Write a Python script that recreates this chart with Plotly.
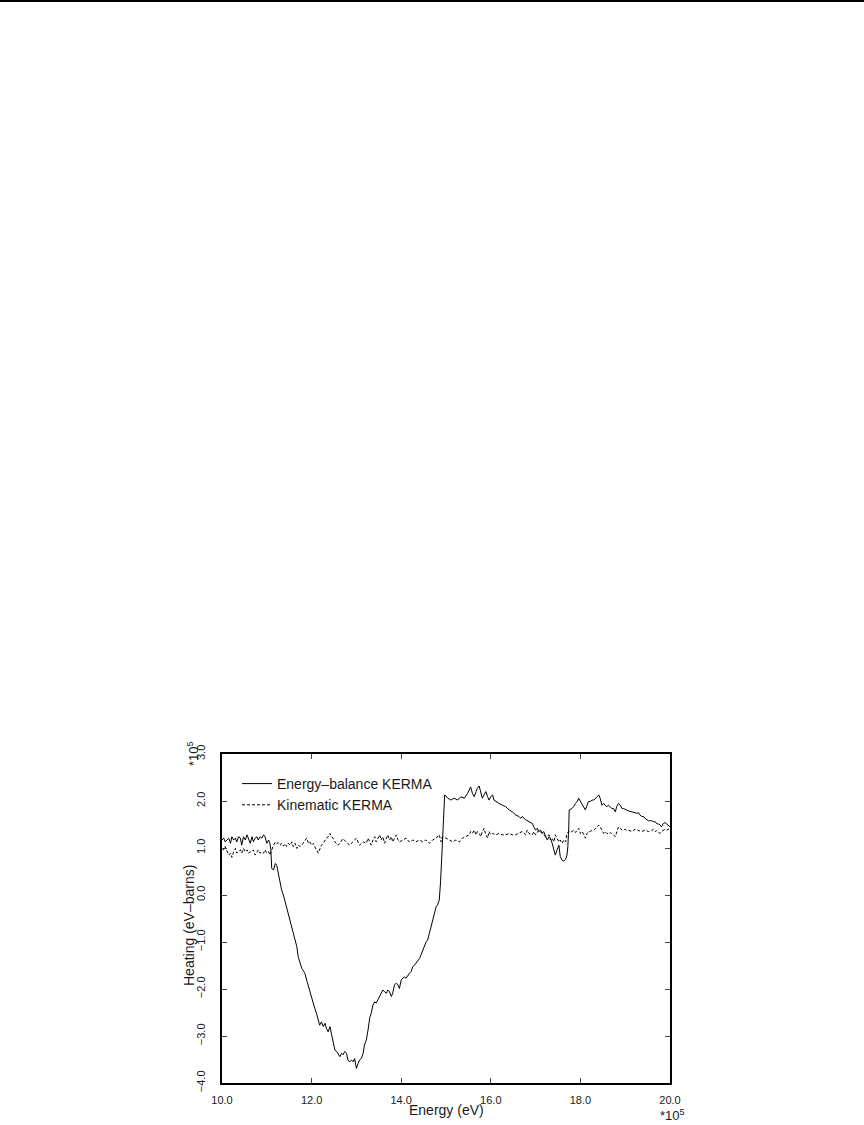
import plotly.graph_objects as go

# ---- data (energy in units of 1e5 eV, heating in units of 1e5 eV-barns) ----
energy_balance = [
    (10.00, 1.17), (10.04, 1.21), (10.07, 1.13), (10.11, 1.17), (10.15, 1.21), (10.19, 1.10),
    (10.22, 1.24), (10.26, 1.17), (10.30, 1.21), (10.33, 1.13), (10.37, 1.24), (10.41, 1.21),
    (10.44, 1.06), (10.48, 1.24), (10.52, 1.17), (10.56, 1.28), (10.59, 1.21), (10.63, 1.10),
    (10.67, 1.24), (10.70, 1.13), (10.74, 1.21), (10.78, 1.24), (10.81, 1.17), (10.85, 1.24),
    (10.89, 1.21), (10.93, 1.28), (10.96, 1.24), (11.00, 1.10), (11.04, 1.17), (11.07, 1.10),
    (11.09, 0.96), (11.11, 0.57), (11.15, 0.53), (11.19, 0.67), (11.22, 0.64), (11.26, 0.43),
    (11.30, 0.25), (11.33, 0.11), (11.37, 0.00), (11.41, -0.14), (11.44, -0.28), (11.48, -0.39),
    (11.54, -0.60), (11.59, -0.82), (11.63, -0.92), (11.67, -1.10), (11.70, -1.31), (11.74, -1.45),
    (11.78, -1.56), (11.81, -1.60), (11.85, -1.67), (11.89, -1.81), (11.93, -1.95), (11.96, -2.02),
    (12.00, -2.16), (12.04, -2.30), (12.07, -2.41), (12.11, -2.52), (12.15, -2.70), (12.18, -2.77),
    (12.22, -2.70), (12.26, -2.80), (12.30, -2.73), (12.33, -2.84), (12.37, -2.91), (12.41, -2.80),
    (12.44, -2.94), (12.48, -3.16), (12.52, -3.30), (12.56, -3.33), (12.59, -3.37), (12.63, -3.44),
    (12.67, -3.37), (12.70, -3.40), (12.74, -3.33), (12.78, -3.37), (12.81, -3.51), (12.85, -3.55),
    (12.89, -3.51), (12.93, -3.55), (12.96, -3.48), (13.00, -3.69), (13.04, -3.58), (13.07, -3.51),
    (13.11, -3.48), (13.15, -3.37), (13.18, -3.19), (13.22, -3.09), (13.26, -2.87), (13.30, -2.60),
    (13.33, -2.52), (13.37, -2.34), (13.41, -2.27), (13.44, -2.30), (13.48, -2.23), (13.52, -2.16),
    (13.56, -2.09), (13.59, -2.02), (13.63, -2.06), (13.67, -2.09), (13.70, -2.02), (13.74, -2.06),
    (13.78, -2.16), (13.81, -2.09), (13.85, -1.91), (13.89, -1.88), (13.93, -1.91), (13.96, -1.99),
    (14.00, -1.81), (14.04, -1.77), (14.07, -1.74), (14.11, -1.77), (14.15, -1.70), (14.18, -1.67),
    (14.22, -1.63), (14.26, -1.52), (14.30, -1.49), (14.33, -1.45), (14.37, -1.42), (14.41, -1.35),
    (14.44, -1.28), (14.48, -1.17), (14.52, -1.06), (14.56, -0.99), (14.59, -0.96), (14.63, -0.82),
    (14.67, -0.67), (14.70, -0.53), (14.74, -0.39), (14.78, -0.25), (14.81, -0.21), (14.85, -0.11),
    (14.88, 0.30), (14.92, 1.20), (14.95, 1.90), (14.97, 2.13), (15.04, 2.06), (15.11, 2.02),
    (15.18, 2.06), (15.26, 2.02), (15.33, 2.09), (15.41, 2.06), (15.48, 2.16), (15.52, 2.23),
    (15.55, 2.30), (15.59, 2.16), (15.63, 2.09), (15.67, 2.20), (15.70, 2.27), (15.74, 2.32),
    (15.78, 2.16), (15.81, 2.06), (15.85, 2.13), (15.89, 2.20), (15.93, 2.09), (15.96, 2.02),
    (16.00, 2.09), (16.04, 2.13), (16.07, 2.02), (16.11, 1.99), (16.18, 1.95), (16.26, 1.91),
    (16.33, 1.88), (16.41, 1.81), (16.48, 1.77), (16.56, 1.70), (16.63, 1.67), (16.67, 1.63),
    (16.70, 1.67), (16.78, 1.60), (16.85, 1.56), (16.93, 1.52), (16.96, 1.45), (17.00, 1.38),
    (17.04, 1.42), (17.07, 1.35), (17.11, 1.38), (17.15, 1.31), (17.18, 1.35), (17.22, 1.24),
    (17.26, 1.17), (17.30, 1.24), (17.33, 1.21), (17.37, 1.10), (17.41, 0.92), (17.44, 0.85),
    (17.48, 0.96), (17.52, 1.06), (17.55, 0.82), (17.59, 0.74), (17.63, 0.72), (17.67, 0.76),
    (17.70, 0.85), (17.72, 1.03), (17.74, 1.45), (17.75, 1.81), (17.81, 1.84), (17.85, 1.88),
    (17.89, 1.95), (17.93, 1.99), (17.96, 2.06), (18.00, 1.99), (18.04, 1.91), (18.07, 1.88),
    (18.11, 1.81), (18.15, 1.91), (18.18, 1.99), (18.22, 1.99), (18.26, 2.02), (18.30, 2.02),
    (18.33, 2.06), (18.37, 2.09), (18.41, 2.13), (18.44, 2.06), (18.48, 1.91), (18.52, 1.95),
    (18.55, 1.91), (18.59, 1.88), (18.63, 1.91), (18.67, 1.88), (18.70, 1.84), (18.74, 1.84),
    (18.78, 1.77), (18.81, 1.88), (18.85, 1.95), (18.89, 1.91), (18.93, 1.84), (18.96, 1.84),
    (19.00, 1.82), (19.04, 1.81), (19.07, 1.79), (19.15, 1.77), (19.22, 1.75), (19.26, 1.74),
    (19.30, 1.75), (19.33, 1.70), (19.37, 1.67), (19.41, 1.67), (19.44, 1.63), (19.48, 1.60),
    (19.52, 1.58), (19.59, 1.58), (19.63, 1.56), (19.67, 1.56), (19.70, 1.52), (19.74, 1.51),
    (19.78, 1.49), (19.81, 1.45), (19.85, 1.52), (19.89, 1.54), (19.93, 1.50), (19.96, 1.49),
    (20.00, 1.45),
]

kinematic = [
    (10.00, 0.99), (10.04, 0.96), (10.07, 1.03), (10.11, 0.92), (10.15, 0.85), (10.19, 0.89),
    (10.22, 0.80), (10.26, 0.92), (10.30, 0.99), (10.33, 0.89), (10.37, 0.92), (10.41, 0.96),
    (10.44, 0.89), (10.48, 0.99), (10.52, 0.92), (10.56, 0.96), (10.59, 0.89), (10.63, 0.92),
    (10.67, 0.92), (10.70, 0.96), (10.74, 0.85), (10.78, 0.92), (10.81, 0.96), (10.85, 0.89),
    (10.89, 0.92), (10.93, 0.89), (10.96, 0.96), (11.00, 0.89), (11.04, 0.92), (11.07, 0.85),
    (11.11, 0.96), (11.15, 1.06), (11.19, 1.13), (11.22, 1.10), (11.26, 1.11), (11.30, 1.06),
    (11.33, 1.10), (11.37, 1.04), (11.41, 1.09), (11.44, 1.03), (11.48, 1.10), (11.52, 1.06),
    (11.56, 1.13), (11.59, 1.03), (11.63, 1.10), (11.67, 0.99), (11.70, 1.06), (11.74, 1.03),
    (11.78, 1.06), (11.81, 1.10), (11.85, 1.17), (11.89, 1.21), (11.93, 1.10), (11.96, 1.13),
    (12.00, 1.06), (12.04, 1.10), (12.07, 1.03), (12.11, 0.96), (12.15, 0.89), (12.19, 0.99),
    (12.22, 1.06), (12.26, 1.10), (12.30, 1.17), (12.33, 1.21), (12.37, 1.24), (12.41, 1.31),
    (12.44, 1.24), (12.48, 1.21), (12.52, 1.13), (12.56, 1.10), (12.59, 1.06), (12.63, 1.10),
    (12.70, 1.20), (12.78, 1.12), (12.85, 1.06), (12.92, 1.13), (13.00, 1.21), (13.07, 1.06),
    (13.15, 1.13), (13.22, 1.10), (13.26, 1.21), (13.30, 1.13), (13.33, 1.06), (13.37, 1.17),
    (13.41, 1.24), (13.44, 1.13), (13.48, 1.21), (13.52, 1.28), (13.55, 1.17), (13.59, 1.24),
    (13.63, 1.10), (13.67, 1.21), (13.70, 1.28), (13.74, 1.17), (13.78, 1.24), (13.81, 1.13),
    (13.85, 1.21), (13.89, 1.28), (13.93, 1.17), (13.96, 1.13), (14.04, 1.17), (14.11, 1.21),
    (14.18, 1.13), (14.26, 1.17), (14.33, 1.13), (14.41, 1.17), (14.48, 1.13), (14.55, 1.17),
    (14.63, 1.10), (14.70, 1.17), (14.78, 1.21), (14.85, 1.28), (14.89, 1.13), (14.92, 1.24),
    (15.00, 1.21), (15.07, 1.17), (15.15, 1.13), (15.22, 1.17), (15.30, 1.13), (15.37, 1.21),
    (15.44, 1.24), (15.52, 1.28), (15.55, 1.35), (15.59, 1.31), (15.63, 1.38), (15.67, 1.28),
    (15.70, 1.35), (15.74, 1.31), (15.78, 1.24), (15.81, 1.35), (15.85, 1.42), (15.89, 1.28),
    (15.93, 1.21), (15.96, 1.35), (16.00, 1.28), (16.04, 1.31), (16.11, 1.28), (16.18, 1.31),
    (16.26, 1.28), (16.33, 1.28), (16.41, 1.31), (16.48, 1.28), (16.55, 1.28), (16.63, 1.31),
    (16.70, 1.35), (16.78, 1.28), (16.81, 1.38), (16.85, 1.31), (16.93, 1.28), (16.96, 1.35),
    (17.00, 1.28), (17.07, 1.38), (17.15, 1.31), (17.22, 1.24), (17.30, 1.28), (17.33, 1.17),
    (17.37, 1.21), (17.41, 1.13), (17.44, 1.28), (17.48, 1.21), (17.52, 1.13), (17.55, 1.17),
    (17.59, 1.10), (17.63, 1.17), (17.67, 1.13), (17.70, 1.31), (17.74, 1.35), (17.78, 1.33),
    (17.81, 1.35), (17.85, 1.38), (17.89, 1.33), (17.93, 1.38), (17.96, 1.42), (18.00, 1.31),
    (18.04, 1.35), (18.07, 1.30), (18.11, 1.21), (18.15, 1.31), (18.18, 1.35), (18.22, 1.35),
    (18.26, 1.38), (18.30, 1.38), (18.33, 1.40), (18.37, 1.45), (18.41, 1.49), (18.44, 1.45),
    (18.48, 1.38), (18.52, 1.31), (18.55, 1.35), (18.59, 1.31), (18.63, 1.30), (18.67, 1.33),
    (18.70, 1.30), (18.74, 1.28), (18.78, 1.24), (18.81, 1.35), (18.85, 1.45), (18.89, 1.42),
    (18.93, 1.38), (18.96, 1.38), (19.00, 1.40), (19.04, 1.37), (19.07, 1.38), (19.15, 1.35),
    (19.18, 1.38), (19.22, 1.40), (19.30, 1.37), (19.37, 1.35), (19.44, 1.38), (19.52, 1.35),
    (19.59, 1.37), (19.63, 1.40), (19.67, 1.35), (19.70, 1.37), (19.74, 1.33), (19.78, 1.31),
    (19.81, 1.35), (19.85, 1.38), (19.89, 1.40), (19.93, 1.38), (19.96, 1.40), (20.00, 1.38),
]

series_names = ["Energy\u2013balance KERMA", "Kinematic KERMA"]
x_ticks = [10.0, 12.0, 14.0, 16.0, 18.0, 20.0]
y_ticks = [-4.0, -3.0, -2.0, -1.0, 0.0, 1.0, 2.0, 3.0]
x_title = "Energy (eV)"
y_title = "Heating (eV\u2013barns)"
scale_label = "*10<sup>5</sup>"

eb_x, eb_y = zip(*energy_balance)
kin_x, kin_y = zip(*kinematic)

# ---- layout geometry (pixels) ----
W, H = 864, 1125
ML, MR, MT, MB = 222, 194, 754, 42
PW, PH = W - ML - MR, H - MT - MB


def px(xp):
    return (xp - ML) / PW


def py(yp):
    return (H - MB - yp) / PH


FONT = "Liberation Sans"
INK = "#1a1a1a"

fig = go.Figure()
fig.add_trace(go.Scatter(x=eb_x, y=eb_y, mode="lines", name=series_names[0],
                         line=dict(color="black", width=1)))
fig.add_trace(go.Scatter(x=kin_x, y=kin_y, mode="lines", name=series_names[1],
                         line=dict(color="black", width=1, dash="3px,2px")))

axis_common = dict(showline=True, linecolor="black", linewidth=2, mirror="ticks",
                   ticks="inside", ticklen=5, tickwidth=1, tickcolor="#444",
                   showgrid=False, zeroline=False, tickformat=".1f",
                   tickfont=dict(family=FONT, size=11, color=INK))

fig.update_xaxes(range=[10, 20], tickvals=x_ticks, ticklabelstandoff=6, **axis_common)
fig.update_yaxes(range=[-4, 3], tickvals=y_ticks, tickangle=-90, ticklabelstandoff=11,
                 **axis_common)

fig.update_layout(
    width=W, height=H,
    margin=dict(l=ML, r=MR, t=MT, b=MB),
    paper_bgcolor="white", plot_bgcolor="white",
    showlegend=True,
    legend=dict(x=px(237), y=py(768), xanchor="left", yanchor="top",
                bgcolor="rgba(0,0,0,0)", borderwidth=0,
                font=dict(family=FONT, size=14, color=INK), itemwidth=30,
                tracegroupgap=0),
    shapes=[dict(type="line", xref="paper", yref="paper",
                 x0=px(0), x1=px(W), y0=py(1), y1=py(1),
                 line=dict(color="black", width=2))],
    annotations=[
        dict(text=x_title, xref="paper", yref="paper", x=px(446), y=py(1110),
             showarrow=False, font=dict(family=FONT, size=14, color=INK),
             xanchor="center", yanchor="middle"),
        dict(text=y_title, xref="paper", yref="paper", x=px(189), y=py(926),
             showarrow=False, textangle=-90, font=dict(family=FONT, size=14, color=INK),
             xanchor="center", yanchor="middle"),
        dict(text=scale_label, xref="paper", yref="paper", x=px(193), y=py(754),
             showarrow=False, textangle=-90, font=dict(family=FONT, size=13, color=INK),
             xanchor="center", yanchor="middle"),
        dict(text=scale_label, xref="paper", yref="paper", x=px(672), y=py(1115),
             showarrow=False, font=dict(family=FONT, size=13, color=INK),
             xanchor="center", yanchor="middle"),
    ],
)

fig.write_html("out.html",
               config={"displayModeBar": False},
               post_script="document.body.style.margin='0';"
                           "document.body.style.overflow='hidden';")
